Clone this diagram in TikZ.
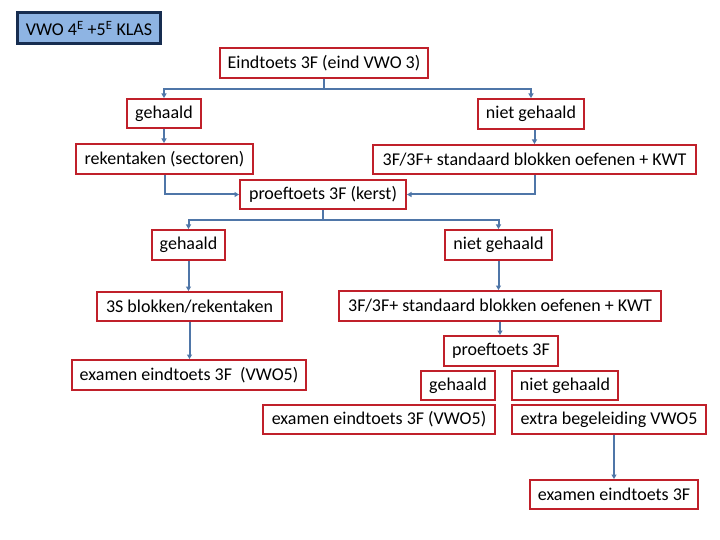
\documentclass[tikz,border=0pt]{standalone}
\usepackage{fontspec}
\setmainfont{Carlito}
\usetikzlibrary{arrows.meta}
\definecolor{boxred}{RGB}{192,32,42}
\definecolor{connblue}{RGB}{79,118,168}
\definecolor{vwofill}{RGB}{142,180,227}
\definecolor{vwoline}{RGB}{23,45,80}
\tikzset{
  box/.style={draw=boxred, line width=2bp, fill=white, rectangle, inner sep=0pt,
    font=\fontsize{18bp}{21bp}\selectfont, text=black},
  vwobox/.style={draw=vwoline, line width=3bp, fill=vwofill, rectangle, inner sep=0pt,
    font=\fontsize{18bp}{21bp}\selectfont, text=black},
  conn/.style={draw=connblue, line width=2bp, -{Triangle[length=4.5bp,width=5bp]}},
}
\begin{document}
\begin{tikzpicture}[x=1bp,y=-1bp]
\useasboundingbox (0,0) rectangle (720,540);
\fill[white] (0,0) rectangle (720,540);

\node[vwobox, minimum width=142bp, minimum height=31bp] (vwo) at (89,28.5) {VWO 4\textsuperscript{E} +5\textsuperscript{E} KLAS};
\node[box, minimum width=208bp, minimum height=30bp] (eind) at (324,63) {Eindtoets 3F (eind VWO 3)};
\node[box, minimum width=74bp, minimum height=29bp] (g1) at (164,113.5) {gehaald};
\node[box, minimum width=106bp, minimum height=30bp] (ng1) at (531,114) {niet gehaald};
\node[box, minimum width=177bp, minimum height=30bp] (rek) at (164.5,159) {rekentaken (sectoren)};
\node[box, minimum width=323bp, minimum height=29bp] (std1) at (534.5,159.5) {3F/3F+ standaard blokken oefenen + KWT};
\node[box, minimum width=166bp, minimum height=29bp] (pk) at (323,194.5) {proeftoets 3F (kerst)};
\node[box, minimum width=73bp, minimum height=30bp] (g2) at (188.5,245) {gehaald};
\node[box, minimum width=107bp, minimum height=30bp] (ng2) at (498.5,245) {niet gehaald};
\node[box, minimum width=185bp, minimum height=29bp] (s3) at (189.5,306.5) {3S blokken/rekentaken};
\node[box, minimum width=322bp, minimum height=30bp] (std2) at (500,306) {3F/3F+ standaard blokken oefenen + KWT};
\node[box, minimum width=234bp, minimum height=30bp] (ex1) at (189,375) {examen eindtoets 3F\ \ (VWO5)};
\node[box, minimum width=114bp, minimum height=30bp] (p3) at (501,351) {proeftoets 3F};
\node[box, minimum width=74bp, minimum height=29bp] (g3) at (458,385.5) {gehaald};
\node[box, minimum width=106bp, minimum height=29bp] (ng3) at (565,385.5) {niet gehaald};
\node[box, minimum width=232bp, minimum height=29bp] (ex2) at (379,419.5) {examen eindtoets 3F (VWO5)};
\node[box, minimum width=194bp, minimum height=29bp] (eb) at (609,419.5) {extra begeleiding VWO5};
\node[box, minimum width=168bp, minimum height=29bp] (ex3) at (614,494.5) {examen eindtoets 3F};

\draw[conn] (eind.south) -- ++(0,10) -| (g1.north);
\draw[conn] (eind.south) -- ++(0,10) -| (ng1.north);
\draw[conn] (g1.south) -- (g1.south |- rek.north);
\draw[conn] (ng1.south -| std1.north) -- (std1.north);
\draw[conn] (rek.south) |- (pk.west);
\draw[conn] (std1.south) |- (pk.east);
\draw[conn] (pk.south) -- ++(0,10) -| (g2.north);
\draw[conn] (pk.south) -- ++(0,10) -| (ng2.north);
\draw[conn] (g2.south) -- (g2.south |- s3.north);
\draw[conn] (ng2.south) -- (ng2.south |- std2.north);
\draw[conn] (s3.south) -- (s3.south |- ex1.north);
\draw[conn] (std2.south) -- (std2.south |- p3.north);
\draw[conn] (ex3.north |- eb.south) -- (ex3.north);
\end{tikzpicture}
\end{document}
